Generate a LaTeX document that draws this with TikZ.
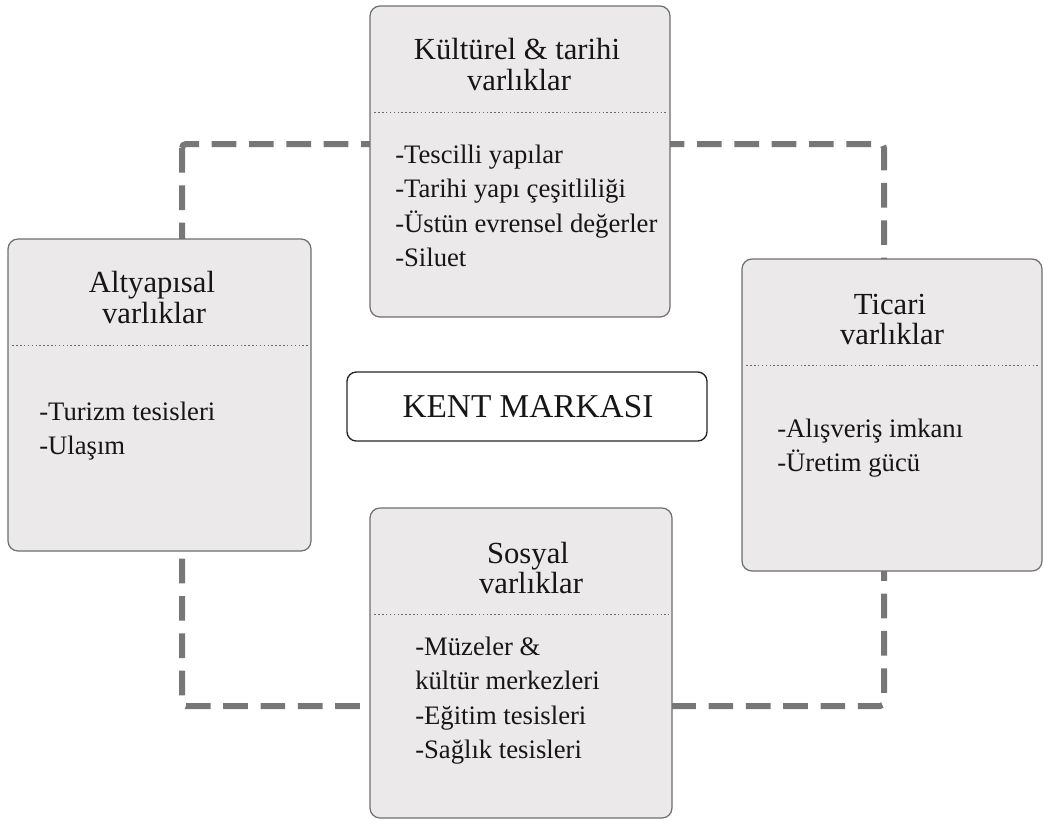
\documentclass[tikz,border=0pt]{standalone}
\usepackage{fontspec}
\setmainfont{Liberation Serif}
\usetikzlibrary{fit,calc}
\definecolor{cardfill}{HTML}{EBE9E9}
\definecolor{cardline}{HTML}{6E6E6E}
\definecolor{ringgray}{HTML}{777777}
\definecolor{sepgray}{HTML}{6A6A6A}
\definecolor{ink}{HTML}{161616}
\begin{document}
\begin{tikzpicture}[x=0.75pt,y=-0.75pt,
  card/.style={draw=cardline, fill=cardfill, line width=0.9pt, rounded corners=7.5pt, inner sep=0pt},
  brand/.style={draw=black!85, fill=white, line width=1pt, rounded corners=7pt, inner sep=0pt},
  ring/.style={draw=ringgray, line width=4.5pt, dash pattern=on 18.5pt off 9.5pt, rounded corners=3pt},
  sep/.style={draw=sepgray, line width=1.1pt, dash pattern=on 1.1pt off 1.8pt},
  head/.style={font=\fontsize{23}{23}\selectfont, anchor=base, text=ink, inner sep=0pt},
  item/.style={font=\fontsize{20}{20}\selectfont, anchor=base west, text=ink, inner sep=0pt},
  label/.style={font=\fontsize{25}{25}\selectfont, anchor=base, text=ink, inner sep=0pt}]
\useasboundingbox (0,0) rectangle (1043,819);

% dashed ring linking the four groups
\coordinate (tl) at (182,144);
\coordinate (bl) at (182,706);
\coordinate (br) at (884,706);
\coordinate (tr) at (884,144);
\draw[ring] (tl) -- (bl) -- (br) -- (tr) -- cycle;

% the four asset groups
\node[card, fit={(370,6) (670,317)}] (kultur) {};
\node[card, fit={(8,239) (311,551)}] (altyapi) {};
\node[card, fit={(742,259) (1042,571)}] (ticari) {};
\node[card, fit={(370,508) (672,818)}] (sosyal) {};

% separators under the headings
\foreach \b in {kultur,altyapi,ticari,sosyal}
  \draw[sep] ($(\b.north west)+(5,107)$) -- ($(\b.north east)+(-4,107)$);

% centre label
\node[brand, fit={(347,372) (707,441)}] (marka) {};
\node[label] (markatext) at (528,417) {KENT MARKASI};

% Kültürel & tarihi varlıklar
\node[head] (k1) at (517,59) {Kültürel \& tarihi};
\node[head] (k2) at (519,90) {varlıklar};
\node[item] (ki1) at (395,163) {-Tescilli yapılar};
\node[item] (ki2) at (395,197.5) {-Tarihi yapı çeşitliliği};
\node[item] (ki3) at (395,232) {-Üstün evrensel değerler};
\node[item] (ki4) at (395,266.5) {-Siluet};

% Altyapısal varlıklar
\node[head] (a1) at (152,292) {Altyapısal};
\node[head] (a2) at (154,323) {varlıklar};
\node[item] (ai1) at (39,420) {-Turizm tesisleri};
\node[item] (ai2) at (39,454.5) {-Ulaşım};

% Ticari varlıklar
\node[head] (t1) at (890,314) {Ticari};
\node[head] (t2) at (892,344) {varlıklar};
\node[item] (ti1) at (777,437) {-Alışveriş imkanı};
\node[item] (ti2) at (777,471) {-Üretim gücü};

% Sosyal varlıklar
\node[head] (s1) at (528,563) {Sosyal};
\node[head] (s2) at (531,593) {varlıklar};
\node[item] (si1) at (415,655) {-Müzeler \&};
\node[item] (si2) at (415,689.5) {kültür merkezleri};
\node[item] (si3) at (415,724) {-Eğitim tesisleri};
\node[item] (si4) at (415,758.5) {-Sağlık tesisleri};
\end{tikzpicture}
\end{document}
